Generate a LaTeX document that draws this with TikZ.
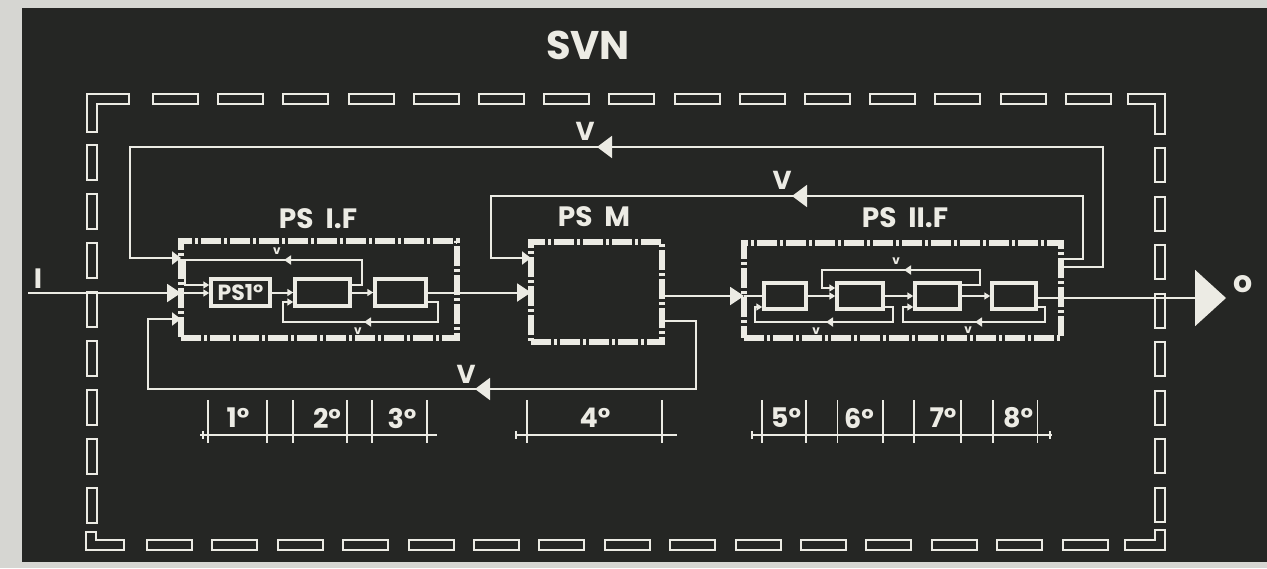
\documentclass[tikz,border=0pt]{standalone}
\usepackage{fontspec}
\setmainfont{Poppins}
\usetikzlibrary{arrows.meta}
\definecolor{bg}{HTML}{252624}
\definecolor{fg}{HTML}{ECEBE4}
\definecolor{paper}{HTML}{D6D6D2}
\tikzset{
  ln/.style={draw=fg, line width=2pt},
  stage/.style={draw=fg, line width=5.5pt, dash pattern=on 20pt off 3pt on 3pt off 3pt, inner sep=0pt, outer sep=0pt},
  blk/.style={draw=fg, line width=3.5pt, inner sep=0pt, outer sep=1.75pt, text=fg},
  bd/.style={draw=fg, line width=2pt, fill=bg},
  arrbig/.style={-{Triangle[length=14pt,width=18pt]}},
  arrmed/.style={-{Triangle[length=9pt,width=13pt]}},
  arrsm/.style={-{Triangle[length=6pt,width=7pt]}},
  midarr/.style={ln,-{Triangle[length=15pt,width=22pt]}},
  midsm/.style={ln,-{Triangle[length=7pt,width=9pt]}},
  lbl/.style={text=fg, font=\bfseries\fontsize{28}{28}\selectfont, inner sep=0pt},
  vbig/.style={text=fg, font=\bfseries\fontsize{26}{26}\selectfont, inner sep=0pt},
  vsm/.style={text=fg, font=\bfseries\fontsize{12}{12}\selectfont, inner sep=0pt},
  numl/.style={text=fg, font=\bfseries\fontsize{27}{27}\selectfont, inner sep=0pt},
  tick/.style={draw=fg, line width=1.6pt}
}
\begin{document}
\begin{tikzpicture}[x=1pt,y=-1pt]
% background
\fill[paper] (0,0) rectangle (1267,568);
\fill[bg] (22,8) rectangle (1267,562);
\useasboundingbox (0,0) rectangle (1267,568);

% title
\node[lbl, font=\bfseries\fontsize{40}{40}\selectfont] (svn) at (588,45) {SVN};

% outer dashed border
\draw[bd] (87,94) -- (129,94) -- (129,104) -- (97,104) -- (97,132) -- (87,132) -- cycle;
\draw[bd] (1128,94) -- (1165,94) -- (1165,134) -- (1155,134) -- (1155,104) -- (1128,104) -- cycle;
\draw[bd] (86,532) -- (96,532) -- (96,540) -- (124,540) -- (124,550) -- (86,550) -- cycle;
\draw[bd] (1165,530) -- (1165,550) -- (1125,550) -- (1125,540) -- (1155,540) -- (1155,530) -- cycle;
\foreach \i in {0,...,14} {
  \draw[bd] (153+65.2*\i,94) rectangle ++(45,10);
  \draw[bd] (147+65.4*\i,540) rectangle ++(45,10);
}
\foreach \i in {0,...,7} {
  \draw[bd] (87,145+49*\i) rectangle ++(10,35);
  \draw[bd] (1155,148+48.5*\i) rectangle ++(10,34);
}

% stage boxes
\node[stage, minimum width=276pt, minimum height=97pt] (psif) at (319,289.5) {};
\node[stage, minimum width=131pt, minimum height=100pt] (psm) at (596.5,292) {};
\node[stage, minimum width=317pt, minimum height=95pt] (psii) at (902.5,290.5) {};
\node[lbl] (lpsif) at (318,219) {PS\hspace{12pt}I.F};
\node[lbl] (lpsm) at (594,217) {PS\hspace{12pt}M};
\node[lbl] (lpsii) at (905,218) {PS\hspace{12pt}II.F};

% inner blocks
\node[blk, minimum width=59pt, minimum height=27pt, font=\bfseries\fontsize{22}{22}\selectfont] (b1) at (240.5,292.5) {PS1°};
\node[blk, minimum width=55pt, minimum height=27pt] (b2) at (322.5,292.5) {};
\node[blk, minimum width=51pt, minimum height=27pt] (b3) at (400.5,292.5) {};
\node[blk, minimum width=42pt, minimum height=26pt] (b5) at (785,296) {};
\node[blk, minimum width=46pt, minimum height=26pt] (b6) at (860,296) {};
\node[blk, minimum width=45pt, minimum height=26pt] (b7) at (937.5,296) {};
\node[blk, minimum width=44pt, minimum height=26pt] (b8) at (1014,296) {};

% input
\coordinate (in) at (28,293);
\node[lbl] (lin) at (38,279) {I};
\draw[ln,arrbig] (in) -- (psif.west |- in);
\draw[ln,arrsm] (psif.west |- in) -- (b1.west |- in);
\draw[ln,arrsm] (b1.east) -- (b2.west);
\draw[ln,arrsm] (b2.east) -- (b3.west);
\draw[ln,arrbig] (b3.east) -- (psm.west |- b3.east);

% PS I.F inner feedbacks
\coordinate (f1a) at (362,285); \coordinate (f1b) at (362,260);
\coordinate (f1c) at (185,260); \coordinate (f1d) at (185,285);
\draw[ln,arrsm] (b2.east |- f1a) -- (f1a) -- (f1b) -- (f1c) -- (f1d) -- (b1.west |- f1d);
\coordinate (m1a) at (296,260); \coordinate (m1b) at (284,260);
\draw[midsm] (m1a) -- (m1b);
\node[vsm] (v1) at (277,251) {v};

\coordinate (f2a) at (438,302); \coordinate (f2b) at (438,322);
\coordinate (f2c) at (283,322); \coordinate (f2d) at (283,302);
\draw[ln,arrsm] (b3.east |- f2a) -- (f2a) -- (f2b) -- (f2c) -- (f2d) -- (b2.west |- f2d);
\coordinate (m2a) at (376,322); \coordinate (m2b) at (364,322);
\draw[midsm] (m2a) -- (m2b);
\node[vsm] (v2) at (358,331) {v};

% PS M -> PS II.F
\draw[ln,arrbig] (psm.east |- b5.west) -- (psii.west |- b5.west);
\draw[ln] (psii.west |- b5.west) -- (b5.west);
\draw[ln,arrsm] (b5.east) -- (b6.west);
\draw[ln,arrsm] (b6.east) -- (b7.west);
\draw[ln,arrsm] (b7.east) -- (b8.west);

% PS II.F inner feedbacks
\coordinate (g1a) at (980,285); \coordinate (g1b) at (980,270);
\coordinate (g1c) at (822,270); \coordinate (g1d) at (822,288);
\draw[ln,arrsm] (b7.east |- g1a) -- (g1a) -- (g1b) -- (g1c) -- (g1d) -- (b6.west |- g1d);
\coordinate (n1a) at (916,270); \coordinate (n1b) at (904,270);
\draw[midsm] (n1a) -- (n1b);
\node[vsm] (v3) at (896,261) {v};

\coordinate (g2a) at (893,307); \coordinate (g2b) at (893,322);
\coordinate (g2c) at (755,322); \coordinate (g2d) at (755,307);
\draw[ln,arrsm] (b6.east |- g2a) -- (g2a) -- (g2b) -- (g2c) -- (g2d) -- (b5.west |- g2d);
\coordinate (n2a) at (838,322); \coordinate (n2b) at (826,322);
\draw[midsm] (n2a) -- (n2b);
\node[vsm] (v4) at (816,331) {v};

\coordinate (g3a) at (1045,307); \coordinate (g3b) at (1045,322);
\coordinate (g3c) at (903,322); \coordinate (g3d) at (903,307);
\draw[ln,arrsm] (b8.east |- g3a) -- (g3a) -- (g3b) -- (g3c) -- (g3d) -- (b7.west |- g3d);
\coordinate (n3a) at (987,322); \coordinate (n3b) at (975,322);
\draw[midsm] (n3a) -- (n3b);
\node[vsm] (v5) at (968,330) {v};

% output
\coordinate (outtip) at (1226,298);
\draw[ln,-{Triangle[length=31pt,width=56pt]}] (b8.east |- outtip) -- (outtip);
\node[text=fg, font=\bfseries\fontsize{30}{30}\selectfont, inner sep=0pt] (out) at (1243,284) {o};

% top loop  PS II.F -> PS I.F
\coordinate (t1) at (1103,267); \coordinate (t2) at (1103,147);
\coordinate (t3) at (130,147); \coordinate (t4) at (130,258);
\draw[ln,arrmed] (psii.east |- t1) -- (t1) -- (t2) -- (t3) -- (t4) -- (psif.west |- t4);
\coordinate (ta) at (620,147); \coordinate (tb) at (597,147);
\draw[midarr] (ta) -- (tb);
\node[vbig] (vt) at (585,131) {V};

% second loop PS II.F -> PS M
\coordinate (s1) at (1083,259); \coordinate (s2) at (1083,196);
\coordinate (s3) at (491,196); \coordinate (s4) at (491,258);
\draw[ln,arrmed] (psii.east |- s1) -- (s1) -- (s2) -- (s3) -- (s4) -- (psm.west |- s4);
\coordinate (sa) at (815,196); \coordinate (sb) at (792,196);
\draw[midarr] (sa) -- (sb);
\node[vbig] (vs) at (782,180) {V};

% bottom loop PS M -> PS I.F
\coordinate (u1) at (696,321); \coordinate (u2) at (696,389);
\coordinate (u3) at (148,389); \coordinate (u4) at (148,319);
\draw[ln,arrmed] (psm.east |- u1) -- (u1) -- (u2) -- (u3) -- (u4) -- (psif.west |- u4);
\coordinate (ua) at (498,389); \coordinate (ub) at (475,389);
\draw[midarr] (ua) -- (ub);
\node[vbig] (vu) at (466,374) {V};

% scale bars
\draw[tick] (200,435) -- (437,435);
\foreach \x in {208,267,293,347,372,427} \draw[tick] (\x,400) -- (\x,443);
\draw[tick] (516,435) -- (677,435);
\foreach \x in {527,662} \draw[tick] (\x,400) -- (\x,443);
\draw[tick] (752,435) -- (1052,435);
\foreach \x in {762,806,837.5,883,914,961,993,1037.5} \draw[tick] (\x,400) -- (\x,443);
\foreach \x in {203,516,752,1050} \draw[tick] (\x,431) -- (\x,439);

\node[numl] (n1) at (238,418) {1°};
\node[numl] (n2) at (327,418) {2°};
\node[numl] (n3) at (402,418) {3°};
\node[numl] (n4) at (595,418) {4°};
\node[numl] (n5) at (786,418) {5°};
\node[numl] (n6) at (859,418) {6°};
\node[numl] (n7) at (943,418) {7°};
\node[numl] (n8) at (1018,418) {8°};
\end{tikzpicture}
\end{document}
